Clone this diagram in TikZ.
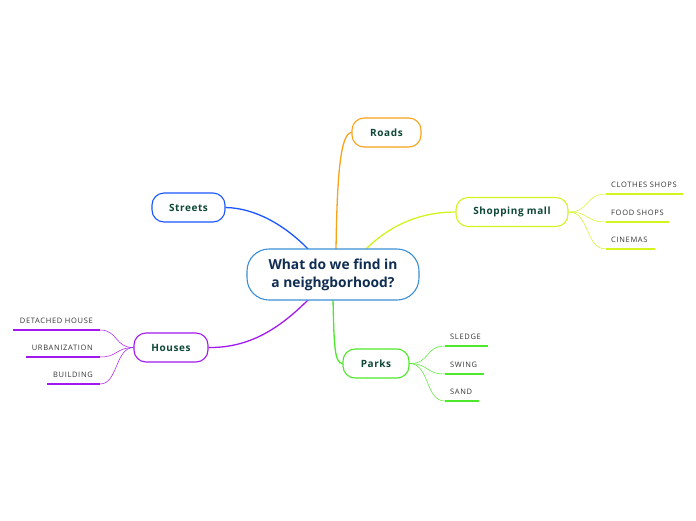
\documentclass[tikz,border=0pt]{standalone}
\usepackage{fontspec}
\setmainfont{Open Sans}
\newfontfamily\topicfont[LetterSpace=6]{Open Sans}
\newfontfamily\subfont[LetterSpace=9]{Open Sans}
\usetikzlibrary{calc}
\definecolor{cblue}{HTML}{3B8FD4}
\definecolor{ctext}{HTML}{0F2C52}
\definecolor{corange}{HTML}{F7A21B}
\definecolor{cstreet}{HTML}{1A56FF}
\definecolor{cmall}{HTML}{D4F41E}
\definecolor{chouse}{HTML}{A418F0}
\definecolor{cpark}{HTML}{4DE82A}
\definecolor{ltext}{HTML}{0D4735}
\definecolor{stext}{HTML}{333333}
\tikzset{
  topic/.style={draw, line width=1.1pt, rounded corners=12pt, minimum height=29pt, inner sep=0pt, fill=white,
    font=\topicfont\fontsize{10}{12}\selectfont\bfseries, text=ltext},
  central/.style={draw=cblue, line width=1.1pt, rounded corners=22pt, minimum width=172pt, minimum height=51pt, inner sep=0pt, fill=white,
    align=center, font=\fontsize{13.8}{18}\selectfont\bfseries, text=ctext},
  sublabel/.style={anchor=south west, inner sep=0pt, font=\subfont\fontsize{7.5}{8}\selectfont, text=stext},
  uline/.style={line width=1.8pt},
  mainlink/.style={line width=1.3pt},
  sublink/.style={line width=0.5pt},
}
\begin{document}
\begin{tikzpicture}[x=1pt,y=-1pt]
\useasboundingbox (0,0) rectangle (696,520);

\coordinate (cR) at (336,250);
\coordinate (cS) at (309,250);
\coordinate (cM) at (365,250);
\coordinate (cH) at (309,299);
\coordinate (cP) at (333,299);

\node[topic, draw=corange, minimum width=69pt] (roads) at (386.5,132.5) {Roads};
\node[topic, draw=cstreet, minimum width=73pt] (streets) at (188.5,207.5) {Streets};
\node[topic, draw=cmall, minimum width=112pt] (mall) at (512,212) {Shopping mall};
\node[topic, draw=chouse, minimum width=74pt] (houses) at (171,347.5) {Houses};
\node[topic, draw=cpark, minimum width=66pt] (parks) at (376,363.5) {Parks};

\draw[mainlink, corange] (cR) .. controls (337,180) and (340,133) .. (roads.west);
\draw[mainlink, cstreet] (cS) .. controls (285,225) and (255,208) .. (streets.east);
\draw[mainlink, cmall] (cM) .. controls (390,225) and (420,212) .. (mall.west);
\draw[mainlink, chouse] (cH) .. controls (280,328) and (250,348) .. (houses.east);
\draw[mainlink, cpark] (cP) .. controls (334,340) and (334,364) .. (parks.west);

\node[central] (ctr) at (333,274.5) {What do we find in\\a neighgborhood?};

% Shopping mall children
\coordinate (m1a) at (606,194); \coordinate (m1b) at (683,194);
\coordinate (m2a) at (606,222); \coordinate (m2b) at (669,222);
\coordinate (m3a) at (606,249); \coordinate (m3b) at (655,249);
\node[sublabel] (m1) at (611,188) {CLOTHES SHOPS};
\node[sublabel] (m2) at (611,216) {FOOD SHOPS};
\node[sublabel] (m3) at (611,243) {CINEMAS};
\draw[uline, cmall] (m1a) -- (m1b);
\draw[uline, cmall] (m2a) -- (m2b);
\draw[uline, cmall] (m3a) -- (m3b);
\draw[sublink, cmall] (mall.east) .. controls (590,212) and (585,194) .. (m1a);
\draw[sublink, cmall] (mall.east) .. controls (590,212) and (585,222) .. (m2a);
\draw[sublink, cmall] (mall.east) .. controls (590,212) and (585,249) .. (m3a);

% Parks children
\coordinate (p1a) at (445,346); \coordinate (p1b) at (488,346);
\coordinate (p2a) at (445,374); \coordinate (p2b) at (484,374);
\coordinate (p3a) at (445,401); \coordinate (p3b) at (479,401);
\node[sublabel] (p1) at (450,340) {SLEDGE};
\node[sublabel] (p2) at (450,368) {SWING};
\node[sublabel] (p3) at (450,395) {SAND};
\draw[uline, cpark] (p1a) -- (p1b);
\draw[uline, cpark] (p2a) -- (p2b);
\draw[uline, cpark] (p3a) -- (p3b);
\draw[sublink, cpark] (parks.east) .. controls (430,364) and (425,346) .. (p1a);
\draw[sublink, cpark] (parks.east) .. controls (430,364) and (425,374) .. (p2a);
\draw[sublink, cpark] (parks.east) .. controls (430,364) and (425,401) .. (p3a);

% Houses children
\coordinate (h1a) at (100,330); \coordinate (h1b) at (13,330);
\coordinate (h2a) at (100,357); \coordinate (h2b) at (26,357);
\coordinate (h3a) at (100,384); \coordinate (h3b) at (47,384);
\node[sublabel, anchor=south east] (h1) at (93,324) {DETACHED HOUSE};
\node[sublabel, anchor=south east] (h2) at (93,351) {URBANIZATION};
\node[sublabel, anchor=south east] (h3) at (93,378) {BUILDING};
\draw[uline, chouse] (h1a) -- (h1b);
\draw[uline, chouse] (h2a) -- (h2b);
\draw[uline, chouse] (h3a) -- (h3b);
\draw[sublink, chouse] (houses.west) .. controls (115,348) and (118,330) .. (h1a);
\draw[sublink, chouse] (houses.west) .. controls (115,348) and (118,357) .. (h2a);
\draw[sublink, chouse] (houses.west) .. controls (115,348) and (118,384) .. (h3a);
\end{tikzpicture}
\end{document}
